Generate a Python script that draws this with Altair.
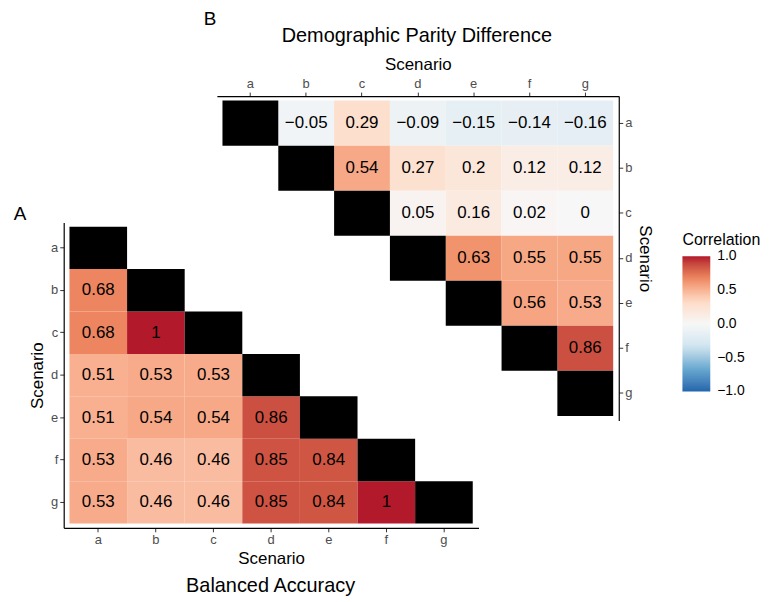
import altair as alt
import pandas as pd

scen = ["a", "b", "c", "d", "e", "f", "g"]

# Balanced Accuracy: lower triangle, rows b..g, columns a.. (row index - 1)
ba_values = [
    [0.68],
    [0.68, 1],
    [0.51, 0.53, 0.53],
    [0.51, 0.54, 0.54, 0.86],
    [0.53, 0.46, 0.46, 0.85, 0.84],
    [0.53, 0.46, 0.46, 0.85, 0.84, 1],
]

# Demographic Parity Difference: upper triangle, rows a..f, columns after diagonal
dpd_values = [
    [-0.05, 0.29, -0.09, -0.15, -0.14, -0.16],
    [0.54, 0.27, 0.2, 0.12, 0.12],
    [0.05, 0.16, 0.02, 0],
    [0.63, 0.55, 0.55],
    [0.56, 0.53],
    [0.86],
]

legend_values = [-1.0, -0.5, 0.0, 0.5, 1.0]
palette = ["#2166AC", "#67A9CF", "#D1E5F0", "#F7F7F7", "#FDDBC7", "#EF8A62", "#B2182B"]
palette_domain = [-1.001, -2 / 3, -1 / 3, 0, 1 / 3, 2 / 3, 1.001]

panel_a_title = "Balanced Accuracy"
panel_b_title = "Demographic Parity Difference"


def fmt(v):
    return ("%g" % v).replace("-", "\u2212")


def build_lower(values):
    recs = []
    for i, row in enumerate(values):
        r = scen[i + 1]
        for j, v in enumerate(row):
            recs.append({"row": r, "col": scen[j], "v": v, "label": fmt(v), "diag": 0})
    for s in scen:
        recs.append({"row": s, "col": s, "v": 0.0, "label": "", "diag": 1})
    return pd.DataFrame(recs)


def build_upper(values):
    recs = []
    for i, row in enumerate(values):
        r = scen[i]
        for j, v in enumerate(row):
            recs.append({"row": r, "col": scen[i + 1 + j], "v": v, "label": fmt(v), "diag": 0})
    for s in scen:
        recs.append({"row": s, "col": s, "v": 0.0, "label": "", "diag": 1})
    return pd.DataFrame(recs)


df_a = build_lower(ba_values)
df_b = build_upper(dpd_values)

color_scale = alt.Scale(domain=palette_domain, range=palette, interpolate="lab")
color_enc = alt.Color(
    "v:Q",
    scale=color_scale,
    legend=alt.Legend(
        title="Correlation",
        values=legend_values,
        format=".1f",
        orient="none",
        legendX=622,
        legendY=137,
        gradientLength=136,
        gradientThickness=28,
        titleFontSize=16,
        titleFontWeight="normal",
        titleColor="black",
        labelFontSize=14,
        labelColor="black",
        labelOffset=7,
        titlePadding=8,
        direction="vertical",
    ),
)


def panel(df, xrange, yrange, xorient, yorient):
    base = alt.Chart(df).encode(
        x=alt.X(
            "col:N",
            scale=alt.Scale(domain=scen, range=xrange, paddingInner=0, paddingOuter=0.1),
            axis=alt.Axis(orient=xorient, title="Scenario"),
        ),
        y=alt.Y(
            "row:N",
            scale=alt.Scale(domain=scen, range=yrange, paddingInner=0, paddingOuter=0.1),
            axis=alt.Axis(orient=yorient, title="Scenario"),
        ),
    )
    cells = base.transform_filter("datum.diag == 0").mark_rect().encode(color=color_enc)
    diag = base.transform_filter("datum.diag == 1").mark_rect(color="black")
    labels = base.transform_filter("datum.diag == 0").mark_text(fontSize=17, color="black").encode(
        text="label:N"
    )
    return alt.layer(cells, diag, labels)


panel_a = panel(df_a, [0, 417], [127, 434], "bottom", "left")
panel_b = panel(df_b, [154, 558], [0, 326], "top", "right")


def annot(txt, x, y, size):
    return (
        alt.Chart(pd.DataFrame({"t": [txt]}))
        .mark_text(fontSize=size, color="black", align="center", baseline="alphabetic")
        .encode(text="t:N", x=alt.value(x), y=alt.value(y))
    )


chart = (
    alt.layer(
        panel_a,
        panel_b,
        annot("A", -44, 125, 19),
        annot("B", 147, -71, 19),
        annot(panel_b_title, 355, -54, 20),
        annot(panel_a_title, 208, 499, 20),
    )
    .resolve_scale(x="independent", y="independent", color="shared")
    .resolve_axis(x="independent", y="independent")
    .properties(
        width=558,
        height=434,
        autosize=alt.AutoSizeParams(type="none"),
        padding={"left": 56, "top": 87, "right": 146, "bottom": 69},
    )
    .configure(font="Liberation Sans")
    .configure_view(strokeWidth=0)
    .configure_axis(
        domainColor="black",
        domainWidth=1.2,
        tickColor="#333333",
        tickSize=4,
        tickWidth=1,
        labelColor="#4D4D4D",
        labelFontSize=13,
        labelAngle=0,
        labelPadding=2,
        titleFontSize=17,
        titleFontWeight="normal",
        titleColor="black",
        titlePadding=4,
        grid=False,
    )
)

chart.save("out.html", embed_options={"renderer": "svg", "actions": False})
